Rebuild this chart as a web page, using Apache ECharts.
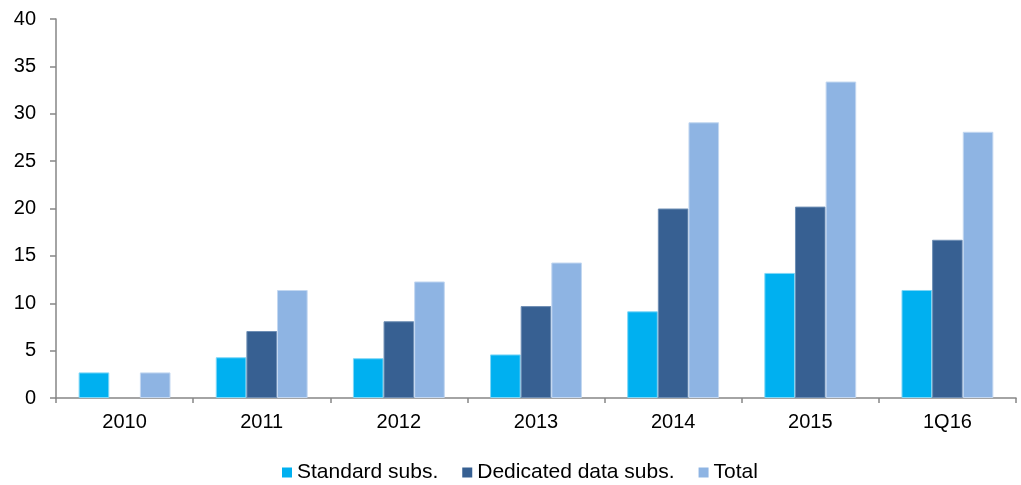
<!DOCTYPE html>
<html>
<head>
<meta charset="utf-8">
<style>
  html, body { margin: 0; padding: 0; background: #fff; }
  #chart { width: 1021px; height: 485px; }
</style>
<script src="https://cdn.jsdelivr.net/npm/echarts@6/dist/echarts.min.js"></script>
</head>
<body>
<div id="chart"></div>
<script>
const categories = ['2010', '2011', '2012', '2013', '2014', '2015', '1Q16'];
const standardSubs = [2.7, 4.3, 4.2, 4.6, 9.15, 13.2, 11.4];
const dedicatedDataSubs = [null, 7.07, 8.1, 9.7, 20.0, 20.2, 16.7];
const totalSubs = [2.7, 11.4, 12.3, 14.3, 29.1, 33.4, 28.1];
const yTicks = { min: 0, max: 40, interval: 5 };

const font = 'Liberation Sans, Arial, sans-serif';
const axisGrey = '#868686';

const chart = echarts.init(document.getElementById('chart'));

function barSeries(name, data, color, edge) {
  return {
    name: name,
    type: 'bar',
    data: data,
    barGap: '0%',
    barCategoryGap: '33%',
    itemStyle: { color: color, borderColor: edge, borderWidth: 1 },
    emphasis: { disabled: true }
  };
}

chart.setOption({
  animation: false,
  grid: { left: 56, right: 5, top: 19, bottom: 87 },
  legend: {
    top: 457,
    left: 277,
    itemWidth: 10,
    itemHeight: 10,
    itemGap: 24,
    icon: 'rect',
    itemStyle: { borderWidth: 0 },
    textStyle: { fontFamily: font, fontSize: 21, color: '#000' },
    data: ['Standard subs.', 'Dedicated data subs.', 'Total']
  },
  xAxis: {
    type: 'category',
    data: categories,
    axisLine: { lineStyle: { color: axisGrey, width: 1.5 } },
    axisTick: { show: true, length: 5, inside: false, lineStyle: { color: axisGrey, width: 1.5 } },
    axisLabel: { fontFamily: font, fontSize: 20, color: '#000', margin: 14 },
    splitLine: { show: false }
  },
  yAxis: {
    type: 'value',
    min: yTicks.min,
    max: yTicks.max,
    interval: yTicks.interval,
    axisLine: { show: true, lineStyle: { color: axisGrey, width: 1.5 } },
    axisTick: { show: true, length: 6, lineStyle: { color: axisGrey, width: 1.5 } },
    axisLabel: { fontFamily: font, fontSize: 20, color: '#000', margin: 20 },
    splitLine: { show: false }
  },
  series: [
    barSeries('Standard subs.', standardSubs, '#00B0F0', '#7FD7F7'),
    barSeries('Dedicated data subs.', dedicatedDataSubs, '#376092', '#6F8FB5'),
    barSeries('Total', totalSubs, '#8EB4E3', '#C4D8F1')
  ]
});
</script>
</body>
</html>
